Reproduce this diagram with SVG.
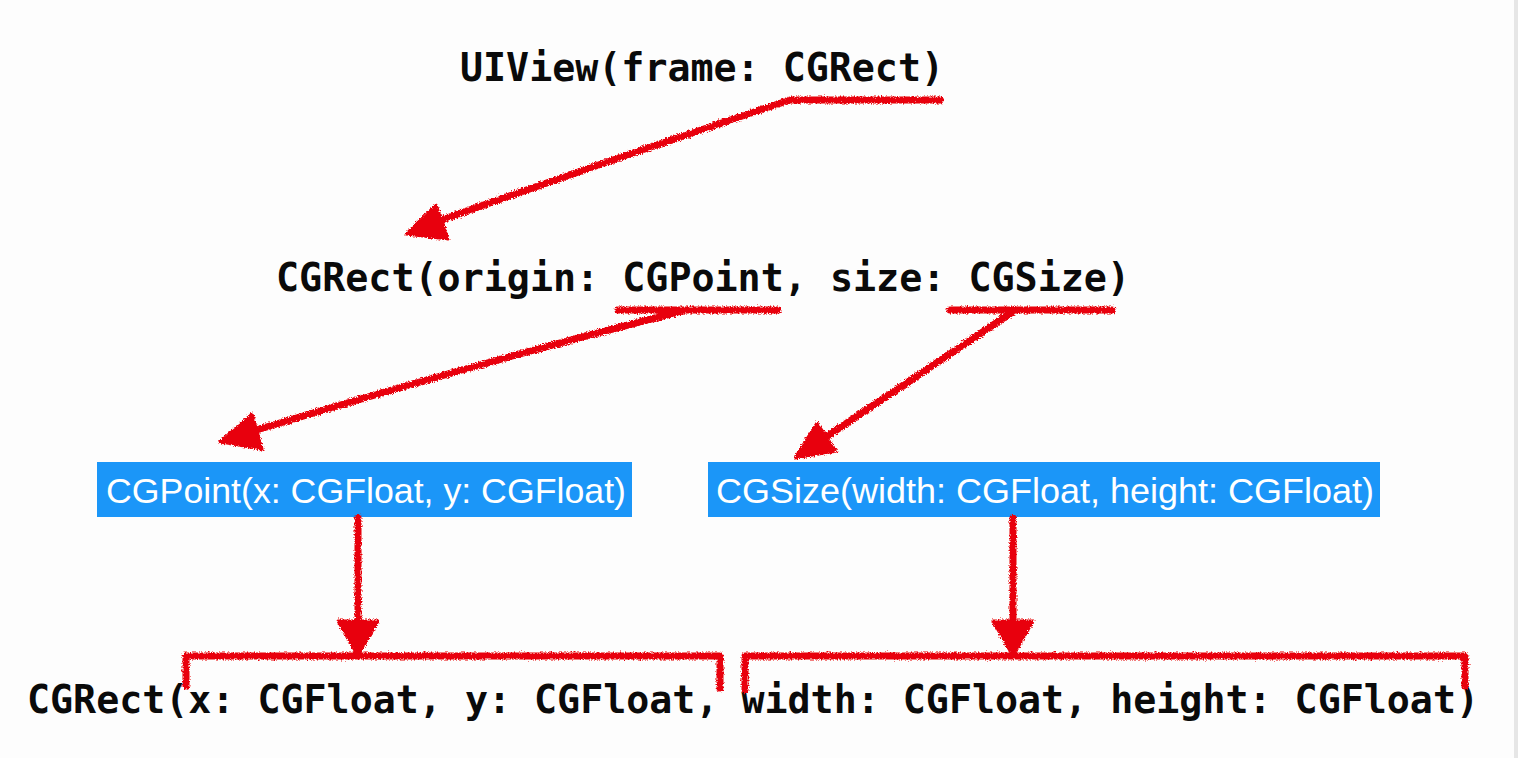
<svg xmlns="http://www.w3.org/2000/svg" width="1518" height="758" viewBox="0 0 1518 758">
  <style>
    .mono { font-family: "DejaVu Sans Mono", "Liberation Mono", monospace; font-weight: bold; font-size: 39px; fill: #0a0a0a; }
    .box { fill: #1b96f8; }
    .boxtext { font-family: "Liberation Sans", Arial, sans-serif; font-size: 35px; fill: #ffffff; }
    .stroke { fill: none; stroke: #e8000b; stroke-width: 7; stroke-linecap: round; stroke-linejoin: round; }
    .head { fill: #e8000b; stroke: #e8000b; stroke-width: 3; stroke-linejoin: round; }
  </style>
  <defs>
    <filter id="rough" x="-5%" y="-5%" width="110%" height="110%">
      <feTurbulence type="fractalNoise" baseFrequency="0.7" numOctaves="2" seed="3" result="n"/>
      <feDisplacementMap in="SourceGraphic" in2="n" scale="5" xChannelSelector="R" yChannelSelector="G"/>
    </filter>
  </defs>
  <rect x="0" y="0" width="1518" height="758" fill="#fdfdfd"/>
  <rect x="1514" y="0" width="4" height="758" fill="#e6e6e6"/>

  <g id="node-uiview">
    <text class="mono" x="460" y="81" textLength="484" lengthAdjust="spacingAndGlyphs">UIView(frame: CGRect)</text>
  </g>
  <g id="node-cgrect-origin-size">
    <text class="mono" x="276" y="291" textLength="854" lengthAdjust="spacingAndGlyphs">CGRect(origin: CGPoint, size: CGSize)</text>
  </g>
  <g id="node-cgpoint">
    <rect class="box" x="97" y="462" width="535" height="55"/>
    <text class="boxtext" x="106" y="503" textLength="520" lengthAdjust="spacingAndGlyphs">CGPoint(x: CGFloat, y: CGFloat)</text>
  </g>
  <g id="node-cgsize">
    <rect class="box" x="708" y="462" width="672" height="55"/>
    <text class="boxtext" x="716" y="503" textLength="658" lengthAdjust="spacingAndGlyphs">CGSize(width: CGFloat, height: CGFloat)</text>
  </g>
  <g id="node-cgrect-xywh">
    <text class="mono" x="27" y="713" textLength="1452" lengthAdjust="spacingAndGlyphs">CGRect(x: CGFloat, y: CGFloat, width: CGFloat, height: CGFloat)</text>
  </g>

  <g id="connectors" filter="url(#rough)">
    <path class="stroke" d="M940,100 L790,100 Q610,160 430,224"/>
    <polygon class="head" points="406,234 436,205 448,239"/>

    <path class="stroke" d="M778,310 L618,310 M682,311 Q470,365 250,432"/>
    <polygon class="head" points="220,442 252,414 262,449"/>

    <path class="stroke" d="M1112,310 L950,310 M1014,311 L820,441"/>
    <polygon class="head" points="795,458 817,423 836,451"/>

    <path class="stroke" d="M358,518 L358,625"/>
    <polygon class="head" points="338,621 378,621 358,656"/>
    <path class="stroke" d="M186,686 L186,656 L720,656 L720,688"/>

    <path class="stroke" d="M1013,518 L1013,625"/>
    <polygon class="head" points="993,621 1033,621 1013,656"/>
    <path class="stroke" d="M745,690 L745,656 L1465,656 L1465,686"/>
  </g>
</svg>
